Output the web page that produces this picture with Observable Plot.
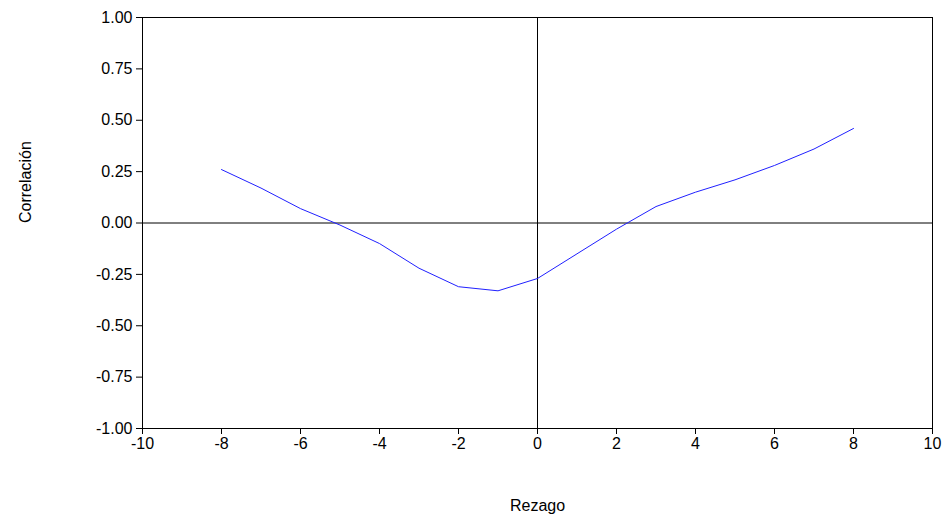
<!DOCTYPE html>
<html><head><meta charset="utf-8">
<script src="https://cdn.jsdelivr.net/npm/d3@7"></script>
<script src="https://cdn.jsdelivr.net/npm/@observablehq/plot@0.6"></script>
<style>body{margin:0;background:#fff}</style>
</head><body><div id="chart"></div>
<script>
const lags = [-8,-7,-6,-5,-4,-3,-2,-1,0,1,2,3,4,5,6,7,8];
const corr = [0.26,0.17,0.07,-0.01,-0.10,-0.22,-0.31,-0.33,-0.27,-0.15,-0.03,0.08,0.15,0.21,0.28,0.36,0.46];
const xTicks = d3.range(-10, 11, 2);
const yTicks = d3.range(-1, 1.001, 0.25);
const data = lags.map((l, i) => ({lag: l, corr: corr[i]}));

const chart = Plot.plot({
  width: 945, height: 516,
  marginLeft: 142, marginRight: 13, marginTop: 17, marginBottom: 88,
  style: {fontFamily: "Liberation Sans, Arial, sans-serif", fontSize: "16px", color: "black", background: "white"},
  x: {domain: [-10, 10], label: null},
  y: {domain: [-1, 1], label: null},
  marks: [
    Plot.frame({stroke: "black"}),
    Plot.ruleX([0], {stroke: "black"}),
    Plot.ruleY([0], {stroke: "black"}),
    Plot.axisX({ticks: xTicks, tickFormat: d => String(d), tickSize: 6, tickPadding: 3, label: null, fontSize: 16}),
    Plot.axisY({ticks: yTicks, tickFormat: d => d.toFixed(2), tickSize: 6, tickPadding: 4, label: null, fontSize: 16}),
    Plot.line(data, {x: "lag", y: "corr", stroke: "#2020ff", strokeWidth: 1}),
    Plot.text(["Rezago"], {frameAnchor: "bottom", dy: 82, fontSize: 16}),
    Plot.text(["Correlación"], {frameAnchor: "left", dx: -117, rotate: -90, fontSize: 16})
  ]
});
document.getElementById("chart").append(chart);
</script></body></html>
